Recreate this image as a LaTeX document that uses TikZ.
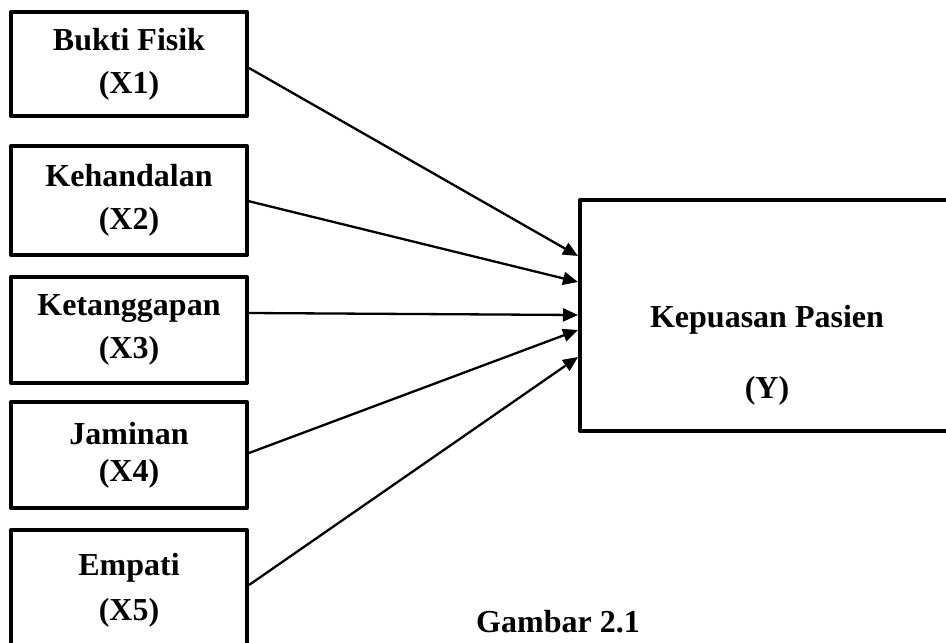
\documentclass[tikz,border=0pt]{standalone}
\usepackage{fontspec}
\setmainfont{Liberation Serif}
\usetikzlibrary{arrows.meta}
\begin{document}
\begin{tikzpicture}[x=1pt,y=-1pt,
  varbox/.style={draw, line width=4pt, line join=round, minimum width=236pt, inner sep=0pt, align=center, font=\fontsize{32}{43}\selectfont\bfseries},
  conn/.style={line width=2.3pt, -{Triangle[length=15pt,width=13pt]}},
  lbl/.style={font=\fontsize{32}{37}\selectfont\bfseries, inner sep=0pt}]
\useasboundingbox (0,0) rectangle (946,643);
\node[varbox, minimum height=104pt] (b1) at (129,64) {Bukti Fisik\\(X1)};
\node[varbox, minimum height=109pt] (b2) at (129,200.5) {Kehandalan\\(X2)};
\node[varbox, minimum height=106pt] (b3) at (129,330) {Ketanggapan\\(X3)};
\node[varbox, minimum height=106pt, font=\fontsize{32}{37}\selectfont\bfseries] (b4) at (129,455) {Jaminan\\(X4)};
\node[varbox, minimum height=120pt, font=\fontsize{32}{45}\selectfont\bfseries] (b5) at (129,590) {Empati\\(X5)};
\node[draw, line width=4pt, line join=round, minimum width=375pt, minimum height=231pt, inner sep=0pt] (y) at (767.5,315.5) {};
\node[lbl, anchor=base] (ytext) at (767,327) {Kepuasan Pasien};
\node[lbl, anchor=base] (ylab) at (767,398) {(Y)};
\node[lbl, anchor=base west] (cap) at (476,632) {Gambar 2.1};
\draw[conn] ([yshift=-4pt]b1.east) -- ([yshift=59.5pt]y.west);
\draw[conn] ([xshift=-3pt]b2.east) -- ([yshift=33.5pt]y.west);
\draw[conn] ([yshift=17pt]b3.east) -- ([yshift=0.5pt]y.west);
\draw[conn] ([yshift=2pt]b4.east) -- ([yshift=-14.5pt]y.west);
\draw[conn] ([yshift=5pt]b5.east) -- ([yshift=-41.5pt]y.west);
\end{tikzpicture}
\end{document}
